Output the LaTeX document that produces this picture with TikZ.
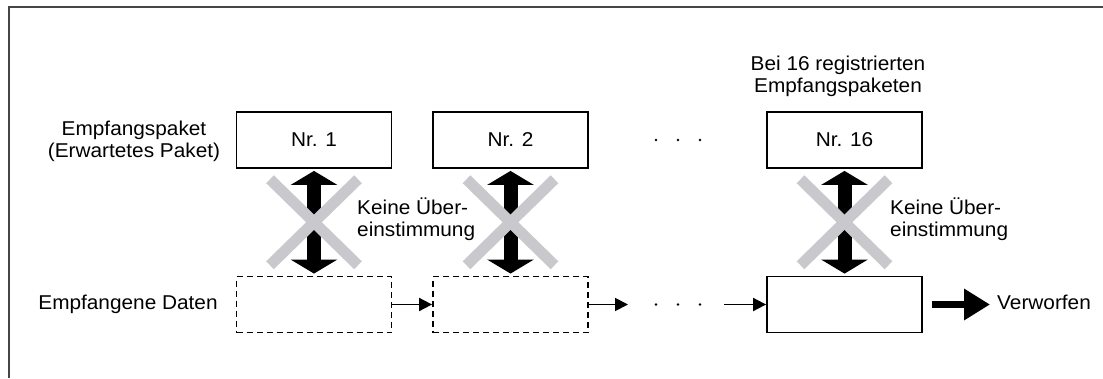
\documentclass[tikz,border=0pt]{standalone}
\usepackage{fontspec}
\setmainfont{Liberation Sans}[FakeStretch=1.04]
\usetikzlibrary{arrows.meta,calc}
\definecolor{crossgray}{RGB}{200,200,205}
\definecolor{framegray}{RGB}{70,70,70}
\begin{document}
\begin{tikzpicture}[x=1pt,y=-1pt,
  every node/.style={font=\fontsize{20}{22}\selectfont, inner sep=0pt},
  pkt/.style={draw, line width=1.8pt, minimum width=155pt, minimum height=56pt},
  dpkt/.style={pkt, dash pattern=on 6pt off 4pt},
  frame/.style={draw=framegray, line width=1.3pt},
  bigarrow/.style={line width=14pt, {Triangle[length=14pt,width=46pt]}-{Triangle[length=14pt,width=46pt]}, shorten <=2pt, shorten >=2pt},
  thinarrow/.style={line width=1.8pt, -{Triangle[length=13pt,width=13pt]}},
  discard/.style={line width=7pt, -{Triangle[length=26pt,width=30pt]}, shorten <=9pt, shorten >=7pt},
  cross/.style={crossgray, line width=11pt, line cap=butt},
  dot/.style={fill=black}
]
\useasboundingbox (0,0) rectangle (1103,378);
\draw[frame] (9,378) -- (9,7) -- (1103,7);

% top row
\node[pkt] (n1) at (314,140) {Nr. 1};
\node[pkt] (n2) at (510.5,140) {Nr. 2};
\node[pkt] (n16) at (844.5,140) {Nr. 16};
% bottom row
\node[dpkt] (d1) at (314,304.5) {};
\node[dpkt] (d2) at (510.5,304.5) {};
\node[pkt] (d16) at (844.5,304.5) {};

% labels
\node[align=center] (lblrx) at (134,141.5) {Empfangspaket\\(Erwartetes Paket)};
\node[anchor=base] (lbldata) at (128,309) {Empfangene Daten};
\node[align=center] (lbl16) at (838,76.5) {Bei 16 registrierten\\Empfangspaketen};
\node[align=left, anchor=west] (nm1) at (357,219) {Keine Über-\\einstimmung};
\node[align=left, anchor=west] (nm16) at (890,219) {Keine Über-\\einstimmung};
\node[anchor=base west] (verw) at (997,309) {Verworfen};

% double arrows and crosses
\draw[bigarrow] (n1.south) -- (d1.north);
\draw[bigarrow] (n2.south) -- (d2.north);
\draw[bigarrow] (n16.south) -- (d16.north);
\foreach \a/\b/\c in {n1/d1/x1, n2/d2/x2, n16/d16/x16}{
  \path (\a.south) -- (\b.north) coordinate[pos=0.5] (\c);
  \draw[cross] ($(\c)+(-44,-43)$) -- ($(\c)+(44,43)$);
  \draw[cross] ($(\c)+(44,-43)$) -- ($(\c)+(-44,43)$);
}

% horizontal chain
\coordinate (c2) at (628,304.5);
\coordinate (c3) at (724,304.5);
\draw[thinarrow] (d1.east) -- (d2.west);
\draw[thinarrow] (d2.east) -- (c2);
\draw[thinarrow] (c3) -- (d16.west);
\draw[discard] (d16.east) -- (verw.west |- d16.east);

% ellipses
\foreach \x in {656,678,700}{
  \fill[dot] (\x,140) circle (1.3);
  \fill[dot] (\x,304.5) circle (1.3);
}
\end{tikzpicture}
\end{document}
